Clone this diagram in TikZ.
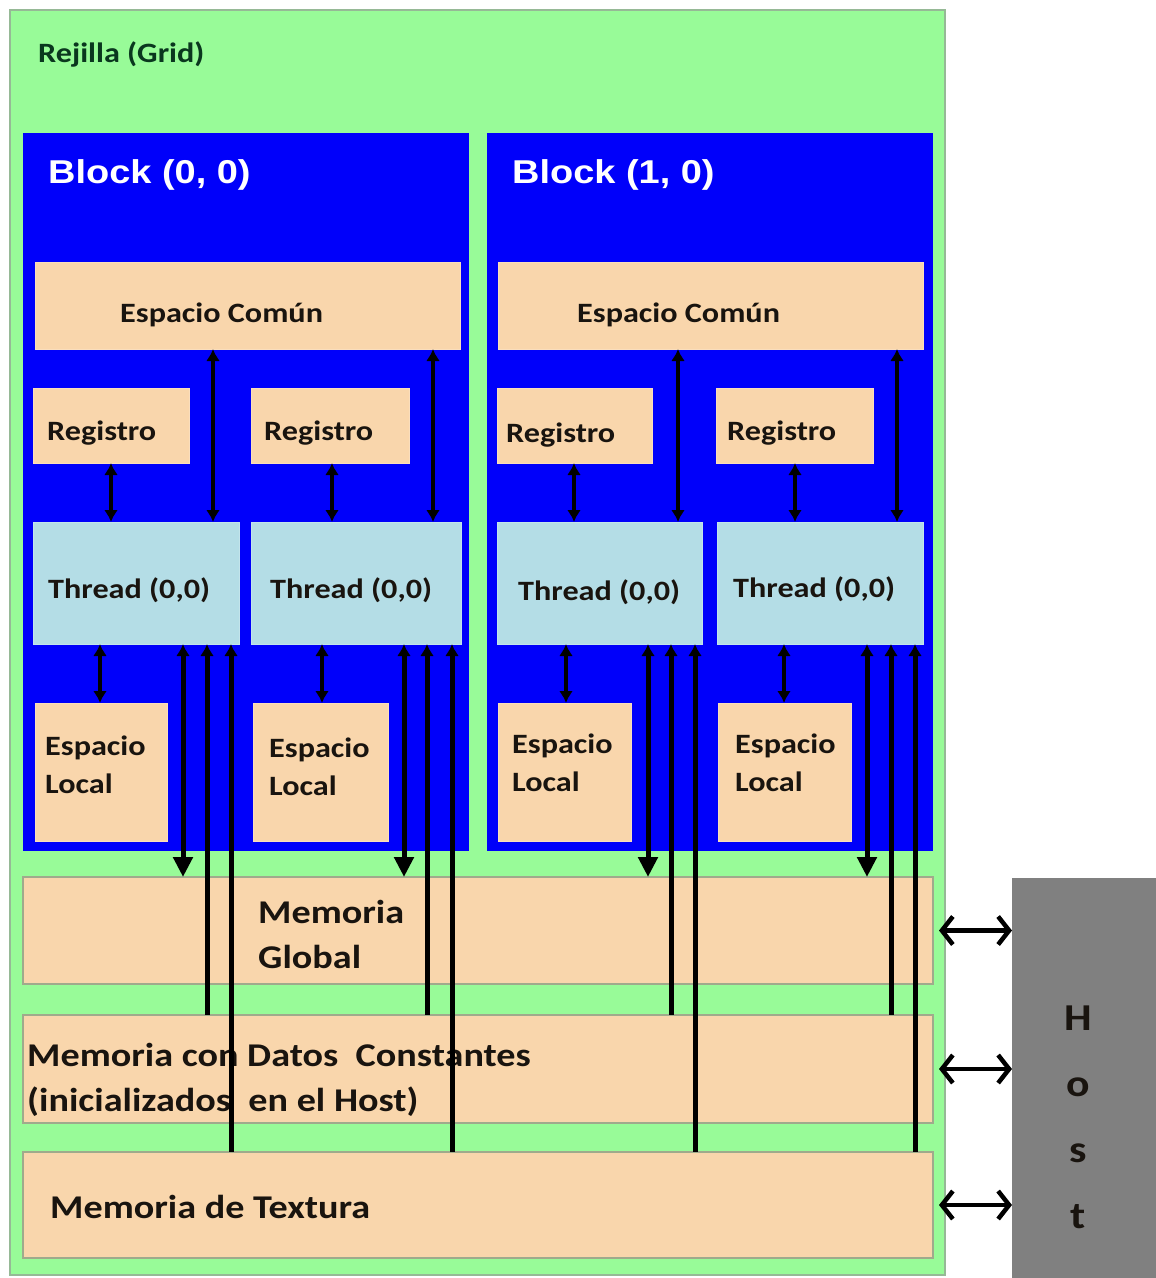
\documentclass[tikz,border=0pt]{standalone}
\usepackage{fontspec}
\usetikzlibrary{arrows.meta}
\newfontfamily\labelfont[FakeStretch=1.15]{Carlito}
\newfontfamily\titlefont[FakeStretch=1.15]{Liberation Sans}

\definecolor{gridgreen}{RGB}{152,251,152}
\definecolor{gridedge}{RGB}{150,185,150}
\definecolor{peach}{RGB}{249,214,172}
\definecolor{peachedge}{RGB}{160,170,140}
\definecolor{threadblue}{RGB}{180,221,230}
\definecolor{blockblue}{RGB}{0,0,250}
\definecolor{hostgray}{RGB}{128,128,128}
\definecolor{inkdark}{RGB}{25,20,15}
\definecolor{gridink}{RGB}{10,55,30}

\tikzset{
  cell/.style={anchor=north west, inner sep=0pt, outer sep=0pt},
  gridbox/.style={cell, fill=gridgreen, draw=gridedge, line width=1.2pt},
  blockbox/.style={cell, fill=blockblue},
  peachbox/.style={cell, fill=peach, draw=peach!80!white, line width=0.8pt},
  membox/.style={cell, fill=peach, draw=peachedge, line width=1.2pt},
  threadbox/.style={cell, fill=threadblue, draw=threadblue!80!white, line width=0.8pt},
  hostbox/.style={cell, fill=hostgray},
  lbl/.style={inner sep=0pt, text=inkdark, anchor=base west,
    font=\labelfont\bfseries\fontsize{28}{38}\selectfont},
  memlbl/.style={lbl, font=\labelfont\bfseries\fontsize{33.2}{45}\selectfont, align=left},
  blocklbl/.style={inner sep=0pt, text=white, anchor=base west,
    font=\titlefont\bfseries\fontsize{33}{38}\selectfont},
  smallarrow/.style={line width=4pt, {Latex[length=12pt,width=14pt]}-{Latex[length=12pt,width=14pt]}},
  busarrow/.style={line width=5pt, {Latex[length=12pt,width=14pt]}-{Triangle[length=20pt,width=19pt]}},
  busline/.style={line width=5pt, {Latex[length=12pt,width=14pt]}-},
  hostarrow/.style={line width=4.5pt,
    {Straight Barb[length=11pt,width=28pt,line width=4.5pt]}-{Straight Barb[length=11pt,width=28pt,line width=4.5pt]}},
}

\begin{document}
\begin{tikzpicture}[x=1pt,y=-1pt]
\useasboundingbox[fill=white] (0,0) rectangle (1156,1278);

% grid frame
\node[gridbox, minimum width=935pt, minimum height=1265pt] (grid) at (10,10) {};
\node[lbl, text=gridink] (gridtitle) at (38,62) {Rejilla (Grid)};

% block (0,0)
\node[blockbox, minimum width=446pt, minimum height=718pt] (blkA) at (23,133) {};
\node[blocklbl] (blkAt) at (48,183) {Block (0, 0)};
\node[peachbox, minimum width=425pt, minimum height=87pt] (comA) at (35,262) {};
\node[lbl] (comAt) at (120,322) {Espacio Común};
\node[peachbox, minimum width=156pt, minimum height=75pt] (regA) at (33,388) {};
\node[lbl] (regAt) at (47,440) {Registro};
\node[peachbox, minimum width=158pt, minimum height=75pt] (regB) at (251,388) {};
\node[lbl] (regBt) at (264,440) {Registro};
\node[threadbox, minimum width=206pt, minimum height=122pt] (thA) at (33,522) {};
\node[lbl] (thAt) at (48,598) {Thread (0,0)};
\node[threadbox, minimum width=210pt, minimum height=122pt] (thB) at (251,522) {};
\node[lbl] (thBt) at (270,598) {Thread (0,0)};
\node[peachbox, minimum width=132pt, minimum height=138pt] (locA) at (35,703) {};
\node[lbl, align=left] (locAt) at (45,793) {Espacio\\Local};
\node[peachbox, minimum width=135pt, minimum height=138pt] (locB) at (253,703) {};
\node[lbl, align=left] (locBt) at (269,795) {Espacio\\Local};

% block (1,0)
\node[blockbox, minimum width=446pt, minimum height=718pt] (blkB) at (487,133) {};
\node[blocklbl] (blkBt) at (512,183) {Block (1, 0)};
\node[peachbox, minimum width=425pt, minimum height=87pt] (comB) at (498,262) {};
\node[lbl] (comBt) at (577,322) {Espacio Común};
\node[peachbox, minimum width=155pt, minimum height=75pt] (regC) at (497,388) {};
\node[lbl] (regCt) at (506,442) {Registro};
\node[peachbox, minimum width=157pt, minimum height=75pt] (regD) at (716,388) {};
\node[lbl] (regDt) at (727,440) {Registro};
\node[threadbox, minimum width=205pt, minimum height=122pt] (thC) at (497,522) {};
\node[lbl] (thCt) at (518,600) {Thread (0,0)};
\node[threadbox, minimum width=206pt, minimum height=122pt] (thD) at (717,522) {};
\node[lbl] (thDt) at (733,597) {Thread (0,0)};
\node[peachbox, minimum width=133pt, minimum height=138pt] (locC) at (498,703) {};
\node[lbl, align=left] (locCt) at (512,791) {Espacio\\Local};
\node[peachbox, minimum width=133pt, minimum height=138pt] (locD) at (718,703) {};
\node[lbl, align=left] (locDt) at (735,791) {Espacio\\Local};

% memories shared by the grid
\node[membox, minimum width=910pt, minimum height=107pt] (glob) at (23,877) {};
\node[memlbl] (globt) at (258,968) {Memoria\\Global};
\node[membox, minimum width=910pt, minimum height=108pt] (cons) at (23,1015) {};
\node[memlbl] (const) at (27,1111) {Memoria con Datos~ Constantes\\(inicializados~ en el Host)};
\node[membox, minimum width=910pt, minimum height=106pt] (tex) at (23,1152) {};
\node[memlbl] (text) at (50,1218) {Memoria de Textura};

% host
\node[hostbox, minimum width=144pt, minimum height=400pt] (host) at (1012,878) {};
\node[lbl, anchor=base, font=\labelfont\bfseries\fontsize{38}{66}\selectfont, align=center]
  (hostt) at (1078,1228) {H\\o\\s\\t};

% columns used by the connectors
\foreach \n/\x in {a1/111, a2/213, a3/100, a4/183, a5/207, a6/231,
                   b1/332, b2/433, b3/322, b4/404, b5/427, b6/452,
                   c1/574, c2/678, c3/566, c4/648, c5/671, c6/695,
                   d1/795, d2/897, d3/784, d4/867, d5/891, d6/915}
  \coordinate (\n) at (\x,0);

% connectors inside each block
\foreach \r/\c/\t/\l/\k in {regA/comA/thA/locA/a, regB/comA/thB/locB/b,
                            regC/comB/thC/locC/c, regD/comB/thD/locD/d} {
  \draw[smallarrow] (\r.south -| \k1) -- (\t.north -| \k1);
  \draw[smallarrow] (\c.south -| \k2) -- (\t.north -| \k2);
  \draw[smallarrow] (\t.south -| \k3) -- (\l.north -| \k3);
}

% connectors from each thread to the grid memories
\foreach \t/\k in {thA/a, thB/b, thC/c, thD/d} {
  \draw[busarrow] (\t.south -| \k4) -- (glob.north -| \k4);
  \draw[busline] (\t.south -| \k5) -- (cons.north -| \k5);
  \draw[busline] (\t.south -| \k6) -- (tex.north -| \k6);
}

% host links
\foreach \m in {glob, cons, tex}
  \draw[hostarrow] ([xshift=6pt]\m.east) -- (host.west |- \m.east);
\end{tikzpicture}
\end{document}
